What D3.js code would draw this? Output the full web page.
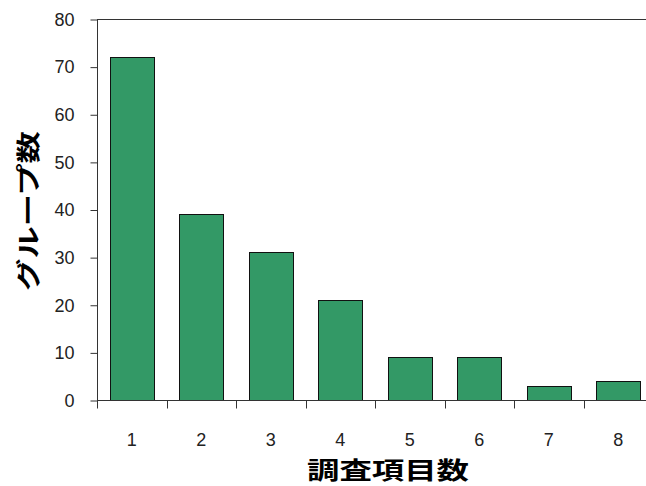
<!DOCTYPE html>
<html>
<head>
<meta charset="utf-8">
<script src="https://cdn.jsdelivr.net/npm/d3@7"></script>
<style>
	body { margin: 0; background: #fff; overflow: hidden; }
	.tick text { font-family: "Liberation Sans", Arial, sans-serif; font-size: 18px; fill: #222; }
	.title { font-family: "Noto Sans CJK JP", sans-serif; font-size: 24px; font-weight: bold; fill: #000; }
</style>
</head>
<body>
<div class="mainContainer"></div>
<script>
var categories = ['1', '2', '3', '4', '5', '6', '7', '8'];
var values = [72, 39, 31, 21, 9, 9, 3, 4];
var yTicks = [0, 10, 20, 30, 40, 50, 60, 70, 80];
var xTitle = '調査項目数';
var yTitle = 'グループ数';

var width = 646, height = 486;
var plotLeft = 97, plotTop = 19, plotW = 556, plotH = 381;

var svg = d3.select('.mainContainer').append('svg')
	.attr('width', width).attr('height', height);

var x = d3.scaleBand().domain(categories).range([plotLeft, plotLeft + plotW]).paddingInner(0.36).paddingOuter(0.18);
var xTick = d3.scaleBand().domain(categories).range([plotLeft, plotLeft + plotW]);
var y = d3.scaleLinear().domain([0, 80]).range([plotTop + plotH, plotTop]);

// top border
svg.append('line').attr('x1', plotLeft).attr('x2', plotLeft + plotW).attr('y1', plotTop + 0.5).attr('y2', plotTop + 0.5)
	.style('stroke', '#333').style('stroke-width', 1);

// bars
svg.selectAll('rect.bar').data(values).enter().append('rect')
	.attr('class', 'bar')
	.attr('x', function(d, i) { return Math.round(x(categories[i])) + 0.5; })
	.attr('y', function(d) { return Math.round(y(d)) + 0.5; })
	.attr('width', Math.round(x.bandwidth()))
	.attr('height', function(d) { return Math.round(y(0)) - Math.round(y(d)); })
	.style('fill', '#339966').style('stroke', '#111').style('stroke-width', 1);

// y axis
var yAxis = svg.append('g').attr('transform', 'translate(' + (plotLeft + 0.5) + ',0.5)')
	.call(d3.axisLeft(y).tickValues(yTicks).tickSize(7).tickPadding(16));
yAxis.selectAll('line, path').style('stroke', '#333');
yAxis.select('.domain').attr('d', 'M0,' + plotTop + 'V' + (plotTop + plotH));

// x axis: tick marks at band boundaries
var xAxis = svg.append('g').attr('transform', 'translate(0,' + (plotTop + plotH + 0.5) + ')');
xAxis.append('line').attr('x1', plotLeft).attr('x2', plotLeft + plotW).style('stroke', '#333');
xAxis.selectAll('line.tk').data(categories).enter().append('line')
	.attr('class', 'tk')
	.attr('x1', function(d) { return Math.round(xTick(d)) + 0.5; })
	.attr('x2', function(d) { return Math.round(xTick(d)) + 0.5; })
	.attr('y1', 0).attr('y2', 8).style('stroke', '#333');
xAxis.selectAll('text').data(categories).enter().append('text')
	.attr('x', function(d) { return xTick(d) + xTick.bandwidth() / 2; })
	.attr('y', 45)
	.attr('text-anchor', 'middle')
	.style('font-family', '"Liberation Sans", Arial, sans-serif').style('font-size', '18px').style('fill', '#222')
	.text(function(d) { return d; });

// titles (glyphs are stretched along the line in the original)
svg.append('text').attr('class', 'title')
	.attr('transform', 'translate(388,479) scale(1.35,1)')
	.attr('text-anchor', 'middle').text(xTitle);
svg.append('text').attr('class', 'title')
	.attr('transform', 'translate(37,211) rotate(-90) scale(1.35,1)')
	.attr('text-anchor', 'middle').text(yTitle);
</script>
</body>
</html>
